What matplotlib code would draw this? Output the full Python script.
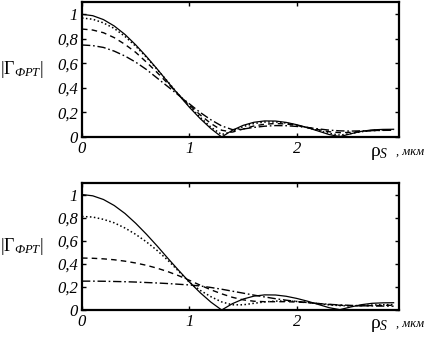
import numpy as np
import matplotlib.pyplot as plt

plt.rcParams['font.family'] = ['Liberation Serif', 'DejaVu Serif']
plt.rcParams['mathtext.fontset'] = 'custom'
plt.rcParams['mathtext.rm'] = 'Liberation Serif'
plt.rcParams['mathtext.it'] = 'Liberation Serif:italic'

# radial coordinate, um
rho = np.round(np.arange(0, 3.0, 0.1), 1)

# upper panel
top_solid = [1.0, 0.989, 0.957, 0.905, 0.836, 0.751, 0.656, 0.554, 0.447, 0.343,
             0.242, 0.150, 0.068, 0.0, 0.055, 0.095, 0.120, 0.131, 0.130, 0.119,
             0.100, 0.076, 0.048, 0.020, 0.003, 0.026, 0.046, 0.058, 0.062, 0.063]
top_dot = [0.97, 0.96, 0.93, 0.885, 0.82, 0.74, 0.65, 0.55, 0.45, 0.345,
           0.25, 0.16, 0.08, 0.02, 0.045, 0.085, 0.11, 0.122, 0.123, 0.114,
           0.097, 0.076, 0.052, 0.03, 0.015, 0.028, 0.043, 0.053, 0.057, 0.058]
top_dash = [0.88, 0.872, 0.85, 0.81, 0.755, 0.69, 0.61, 0.525, 0.435, 0.345,
            0.26, 0.18, 0.11, 0.055, 0.04, 0.065, 0.09, 0.104, 0.11, 0.106,
            0.094, 0.078, 0.06, 0.043, 0.035, 0.038, 0.046, 0.052, 0.055, 0.056]
top_dashdot = [0.75, 0.745, 0.73, 0.70, 0.66, 0.61, 0.55, 0.48, 0.41, 0.34,
               0.27, 0.20, 0.14, 0.09, 0.06, 0.065, 0.078, 0.088, 0.093, 0.092,
               0.086, 0.077, 0.066, 0.056, 0.05, 0.048, 0.05, 0.052, 0.054, 0.055]

# lower panel
bot_solid = top_solid
bot_dot = [0.81, 0.805, 0.785, 0.755, 0.71, 0.655, 0.59, 0.515, 0.43, 0.335,
           0.24, 0.17, 0.115, 0.07, 0.045, 0.045, 0.058, 0.07, 0.077, 0.078,
           0.074, 0.066, 0.055, 0.045, 0.038, 0.036, 0.039, 0.043, 0.046, 0.047]
bot_dash = [0.45, 0.448, 0.443, 0.435, 0.423, 0.407, 0.387, 0.362, 0.332, 0.297,
            0.257, 0.215, 0.175, 0.14, 0.11, 0.088, 0.076, 0.072, 0.072, 0.072,
            0.069, 0.064, 0.056, 0.048, 0.041, 0.037, 0.036, 0.038, 0.04, 0.041]
bot_dashdot = [0.25, 0.25, 0.249, 0.247, 0.245, 0.242, 0.238, 0.234, 0.229, 0.223,
               0.217, 0.208, 0.195, 0.18, 0.163, 0.146, 0.129, 0.113, 0.098, 0.085,
               0.074, 0.064, 0.056, 0.049, 0.044, 0.04, 0.037, 0.035, 0.034, 0.033]

yticks = [0, 0.2, 0.4, 0.6, 0.8, 1.0]
ytick_labels = ['0', '0,2', '0,4', '0,6', '0,8', '1']
xticks = [0, 1, 2]
xtick_labels = ['0', '1', '2']

fig = plt.figure(figsize=(4.37, 3.43), dpi=100)
ax1 = fig.add_axes([0.1876, 0.6006, 0.7254, 0.3934])
ax2 = fig.add_axes([0.1876, 0.0962, 0.7254, 0.3703])

panels = [(ax1, top_solid, top_dot, top_dash, top_dashdot),
          (ax2, bot_solid, bot_dot, bot_dash, bot_dashdot)]

for ax, s, d, da, dd in panels:
    ax.plot(rho, s, color='k', lw=0.9, ls='-')
    ax.plot(rho, d, color='k', lw=1.1, ls=(0, (1, 1.6)))
    ax.plot(rho, da, color='k', lw=1.0, ls=(0, (4, 3)))
    ax.plot(rho, dd, color='k', lw=1.0, ls=(0, (6, 2, 1.2, 2)))
    ax.set_xlim(0, 2.95)
    ax.set_ylim(0, 1.1)
    ax.set_xticks(xticks)
    ax.set_xticklabels(xtick_labels, fontstyle='italic', fontsize=12)
    ax.set_yticks(yticks)
    ax.set_yticklabels(ytick_labels, fontstyle='italic', fontsize=12)
    ax.tick_params(direction='in', top=True, right=True, length=3, width=1,
                   pad=3)
    for sp in ax.spines.values():
        sp.set_linewidth(1.6)
    # y label, written horizontally at the left edge
    ax.text(-0.258, 0.5, r'$|\mathit{Γ}_{\mathit{ФРТ}}|$', transform=ax.transAxes,
            fontsize=13, ha='left', va='center')
    ax.text(0.91, -0.12, r'$\mathrm{ρ}_{\mathit{S}}$', transform=ax.transAxes,
            fontsize=14, ha='left', va='center')
    ax.text(0.99, -0.11, ', мкм', transform=ax.transAxes, fontstyle='italic',
            fontsize=9, ha='left', va='center')

fig.savefig('out.png', dpi=100)
